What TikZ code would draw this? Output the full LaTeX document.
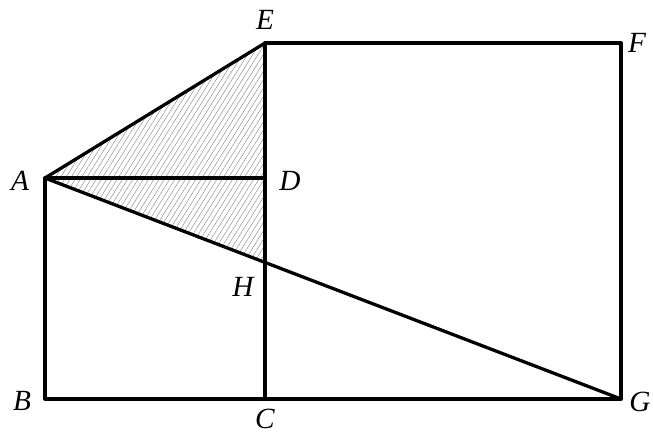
\documentclass[tikz,border=0pt]{standalone}
\usepackage{fontspec}
\setmainfont{Liberation Serif}
\usetikzlibrary{calc,patterns.meta}
\tikzset{
    lab/.style={
        font=\fontsize{25}{30}\selectfont\itshape,
        inner sep=1pt
    },
    edge/.style={
        line width=2.8pt
    }
}

\begin{document}
\begin{tikzpicture}[x=0.03cm,y=-0.03cm,line cap=round,line join=round]

% --- frame ---
    \useasboundingbox (0,0) rectangle (653,434);

% --- geometry ---
    \coordinate (A) at ( 45,178);
    \coordinate (B) at ( 45,399);
    \coordinate (C) at (265,399);
    \coordinate (D) at (265,178);
    \coordinate (E) at (265, 43);
    \coordinate (F) at (621, 43);
    \coordinate (G) at (621,399);
    \coordinate (H) at (intersection of A--G and E--C);

% shaded triangle
    \fill[pattern={Lines[angle=58,distance=3.8pt,line width=0.4pt]},
          pattern color=black!45] (A) -- (E) -- (H) -- cycle;

% squares
    \draw[edge] (A) -- (B) -- (C) -- (D) -- cycle;
    \draw[edge] (C) -- (E) -- (F) -- (G) -- cycle;

% segments
    \draw[edge] (A) -- (E);
    \draw[edge] (A) -- (G);

% labels
    \node[lab] (lA) at ( 20,181) {A};
    \node[lab] (lB) at ( 22,401) {B};
    \node[lab] (lC) at (265,419) {C};
    \node[lab] (lD) at (290,181) {D};
    \node[lab] (lE) at (265, 20) {E};
    \node[lab] (lF) at (637, 43) {F};
    \node[lab] (lG) at (640,402) {G};
    \node[lab] (lH) at (243,287) {H};

\end{tikzpicture}
\end{document}
